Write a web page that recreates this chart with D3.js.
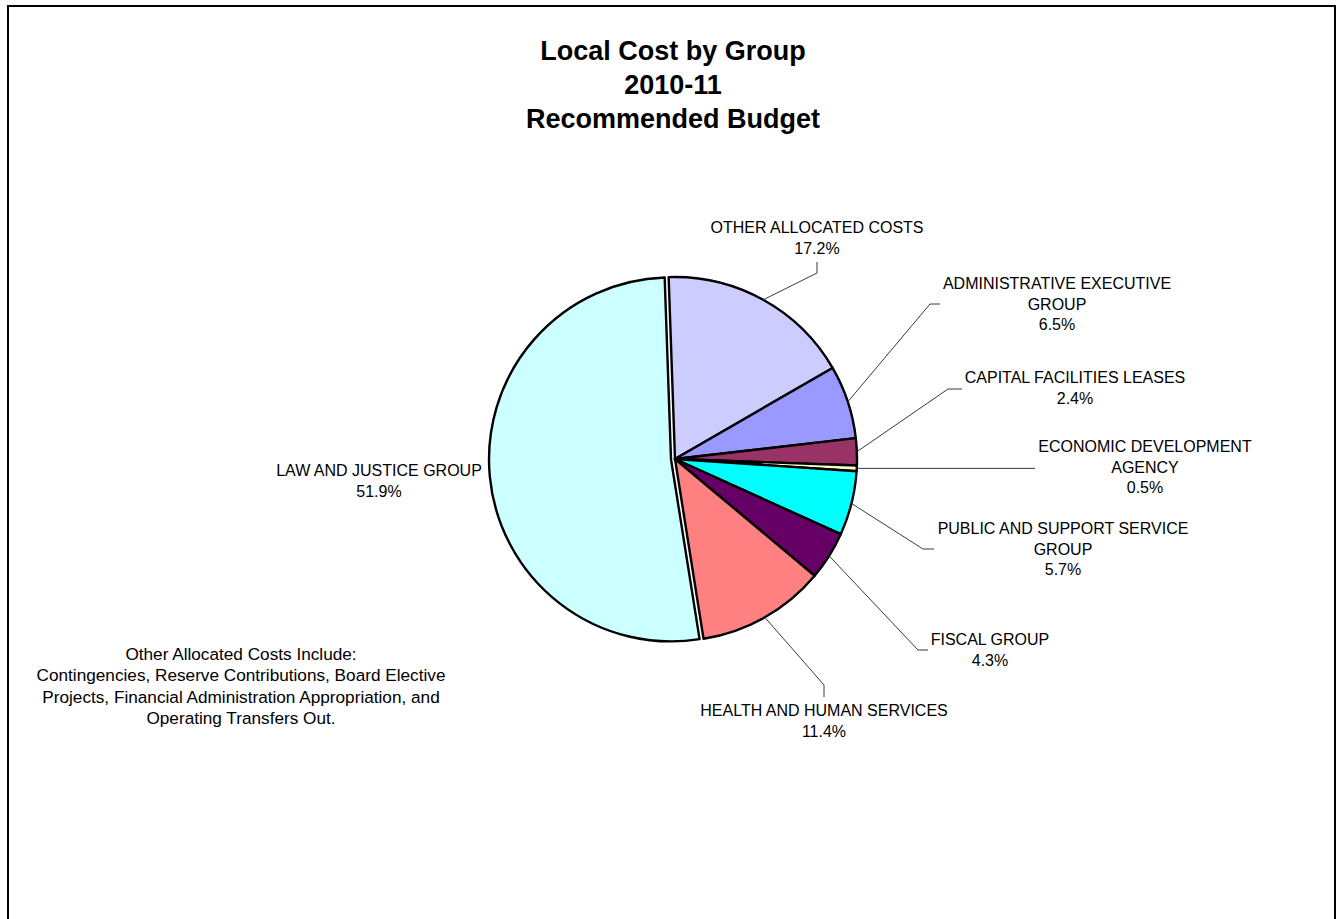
<!DOCTYPE html>
<html>
<head>
<meta charset="utf-8">
<script src="https://cdn.jsdelivr.net/npm/d3@7"></script>
<style>
  html, body { margin: 0; padding: 0; background: #fff; }
  svg { display: block; }
  text { font-family: "Liberation Sans", Arial, sans-serif; fill: #000; }
</style>
</head>
<body>
<svg id="chart" width="1336" height="919"></svg>
<script>
// Budget groups, clockwise from the top of the pie
const categories = [
  "OTHER ALLOCATED COSTS",
  "ADMINISTRATIVE EXECUTIVE\nGROUP",
  "CAPITAL FACILITIES LEASES",
  "ECONOMIC DEVELOPMENT\nAGENCY",
  "PUBLIC AND SUPPORT SERVICE\nGROUP",
  "FISCAL GROUP",
  "HEALTH AND HUMAN SERVICES",
  "LAW AND JUSTICE GROUP"
];
// Share of local cost, percent
const shares = [17.2, 6.5, 2.4, 0.5, 5.7, 4.3, 11.4, 51.9];
const sliceColors = ["#CCCCFF", "#9999FF", "#993366", "#FFFFCC", "#00FFFF", "#660066", "#FF8080", "#CCFFFF"];
const explodedSlice = "LAW AND JUSTICE GROUP";

const titleLines = ["Local Cost by Group", "2010-11", "Recommended Budget"];
const noteLines = [
  "Other Allocated Costs Include:",
  "Contingencies, Reserve Contributions, Board Elective",
  "Projects, Financial Administration Appropriation, and",
  "Operating Transfers Out."
];

// Label anchors (centre x, first baseline) and leader-line bend points
const labelLayout = [
  { x: 817,  y: 233, bends: [[817, 273], [817, 262]] },
  { x: 1057, y: 289, bends: [[930, 304], [940, 304]] },
  { x: 1075, y: 383, bends: [[948, 389], [962, 389]] },
  { x: 1145, y: 452, bends: [[1035, null]] },
  { x: 1063, y: 534, bends: [[923, 549], [934, 549]] },
  { x: 990,  y: 645, bends: [[918, 650], [928, 650]] },
  { x: 824,  y: 716, bends: [[824, 685], [824, 697]] },
  { x: 379,  y: 476, bends: null }
];

const svg = d3.select("#chart");

// frame
svg.append("rect")
  .attr("x", 8).attr("y", 6)
  .attr("width", 1327).attr("height", 940)
  .attr("fill", "none").attr("stroke", "#000").attr("stroke-width", 2);

// title
svg.append("g").selectAll("text").data(titleLines).join("text")
  .attr("x", 673).attr("y", (d, i) => 60 + i * 34)
  .attr("text-anchor", "middle")
  .style("font-weight", "bold").style("font-size", "27px")
  .text(d => d);

const cx = 675, cy = 459, radius = 182;
const startA = -2 * Math.PI / 180;

const rows = categories.map((c, i) => ({ name: c, value: shares[i], color: sliceColors[i], layout: labelLayout[i] }));

const pie = d3.pie().value(d => d.value).sort(null)
  .startAngle(startA).endAngle(startA + 2 * Math.PI);
const arcs = pie(rows);

const arc = d3.arc().innerRadius(0).outerRadius(radius);

const g = svg.append("g").attr("transform", `translate(${cx},${cy})`);

g.selectAll("path.slice").data(arcs).join("path")
  .attr("class", "slice")
  .attr("d", arc)
  .attr("transform", d => {
    if (d.data.name !== explodedSlice) return null;
    const mid = (d.startAngle + d.endAngle) / 2;
    const off = 4;
    return `translate(${off * Math.sin(mid)},${-off * Math.cos(mid)})`;
  })
  .attr("fill", d => d.data.color)
  .attr("stroke", "#000")
  .attr("stroke-width", 2.4)
  .attr("stroke-linejoin", "round");

// leader lines
const line = d3.line();
arcs.forEach(d => {
  const L = d.data.layout;
  if (!L.bends) return;
  const mid = (d.startAngle + d.endAngle) / 2;
  const p0 = [cx + radius * Math.sin(mid), cy - radius * Math.cos(mid)];
  const pts = [p0].concat(L.bends.map(b => [b[0], b[1] === null ? p0[1] : b[1]]));
  svg.append("path")
    .attr("d", line(pts))
    .attr("fill", "none")
    .attr("stroke", "#3a3a3a")
    .attr("stroke-width", 1);
});

// slice labels
const lbl = svg.append("g").style("font-size", "16px");
arcs.forEach(d => {
  const L = d.data.layout;
  const lines = d.data.name.split("\n").concat([d3.format(".1f")(d.data.value) + "%"]);
  lbl.append("g").selectAll("text").data(lines).join("text")
    .attr("x", L.x).attr("y", (t, i) => L.y + i * 20.5)
    .attr("text-anchor", "middle")
    .text(t => t);
});

// note
svg.append("g").style("font-size", "17.2px").selectAll("text").data(noteLines).join("text")
  .attr("x", 241).attr("y", (d, i) => 660 + i * 21.4)
  .attr("text-anchor", "middle")
  .text(d => d);
</script>
</body>
</html>
